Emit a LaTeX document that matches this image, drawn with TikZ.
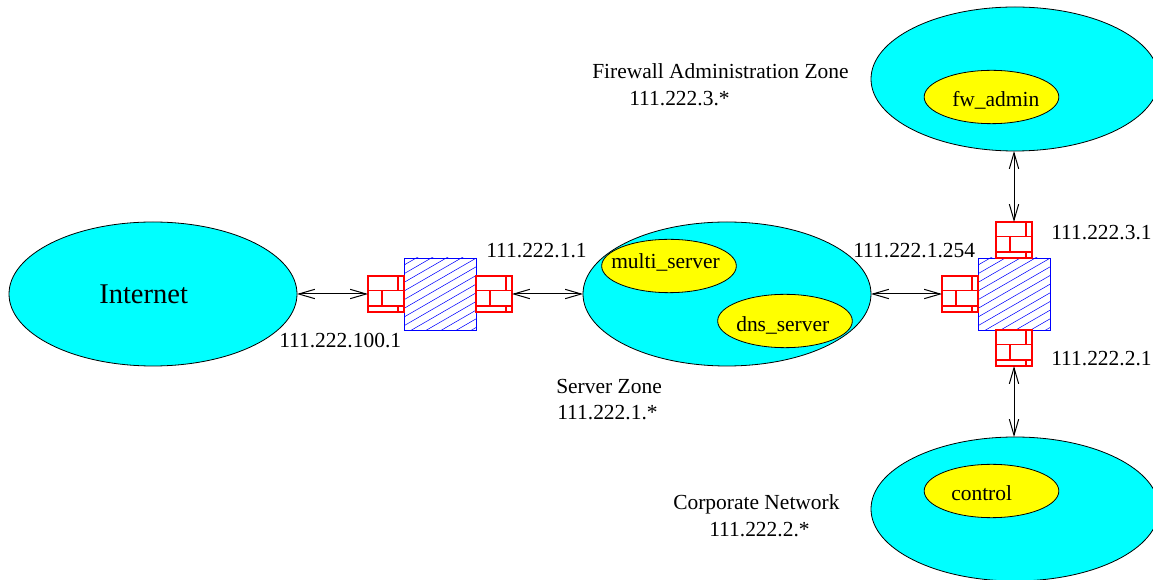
\documentclass[tikz,border=0pt]{standalone}
\usepackage{fontspec}
\setmainfont{Liberation Serif}
\usetikzlibrary{positioning}
\usetikzlibrary{arrows.meta}
\usetikzlibrary{calc}
\usetikzlibrary{shapes.geometric}

\definecolor{zonecyan}{RGB}{0,255,255}
\definecolor{hostyellow}{RGB}{255,255,0}

\tikzset{
  zone/.style={ellipse, draw, fill=zonecyan, line width=0.6pt, outer sep=0pt,
    inner sep=0pt, minimum width=216pt, minimum height=108pt},
  host/.style={ellipse, draw, fill=hostyellow, line width=0.6pt, outer sep=0pt,
    inner sep=0pt, minimum width=101pt, minimum height=40pt},
  label/.style={inner sep=0pt, anchor=base west, font=\fontsize{16.1}{19}\selectfont},
  link/.style={{Straight Barb[length=12pt,width=7pt]}-{Straight Barb[length=12pt,width=7pt]},
    line width=0.75pt},
  filter/.style={rectangle, draw=blue, line width=0.7pt, outer sep=0pt, inner sep=0pt,
    minimum size=54pt,
    path picture={
      \foreach \h in {-35.8,-29.3,...,54} {
        \draw[blue, line width=0.4pt] ($(path picture bounding box.south west)+(0,\h pt)$)
          -- ++(60pt,34.6pt);
      }
    }},
  brick/.style={rectangle, draw=red, line width=0.9pt, outer sep=0pt, inner sep=0pt,
    minimum size=27pt,
    path picture={
      \coordinate (SW) at (path picture bounding box.south west);
      \draw[red, line width=0.9pt] ($(SW)+(0,16pt)$) -- ++(27pt,0);
      \draw[red, line width=0.9pt] ($(SW)+(0,4.5pt)$) -- ++(27pt,0);
      \draw[red, line width=0.9pt] ($(SW)+(10.5pt,4.5pt)$) -- ++(0,11.5pt);
      \draw[red, line width=0.9pt] ($(SW)+(22.5pt,16pt)$) -- ++(0,11pt);
      \draw[red, line width=0.9pt] ($(SW)+(22.5pt,0)$) -- ++(0,4.5pt);
    }},
}

\begin{document}
\begin{tikzpicture}[x=0.75pt,y=-0.75pt]

  \useasboundingbox (0,0) rectangle (1153,580);

  % Zones
  \node[zone] (internet) at (153,294) {};
  \node[zone] (serverzone) at (727,294) {};
  \node[zone] (adminzone) at (1015,79) {};
  \node[zone] (corpzone) at (1015,509) {};

  % Hosts
  \node[host] (multi) at (669,266) {};
  \node[host] (dns) at (785,321) {};
  \node[host] (fwadmin) at (991.5,97) {};
  \node[host] (control) at (991.5,491) {};

  % Firewalls
  \node[filter] (leftfilter) at (440,294) {};
  \node[brick] (leftin) at (386,294) {};
  \node[brick] (leftout) at (494,294) {};
  \node[filter] (rightfilter) at (1014,294) {};
  \node[brick] (rightin) at (960,294) {};
  \node[brick] (righttop) at (1014,240) {};
  \node[brick] (rightbot) at (1014,348) {};

  % Links
  \draw[link] (internet.east) -- (leftin.west);
  \draw[link] (leftout.east) -- (serverzone.west);
  \draw[link] (serverzone.east) -- (rightin.west);
  \draw[link] (adminzone.south -| righttop.north) -- (righttop.north);
  \draw[link] (rightbot.south) -- (corpzone.north -| rightbot.south);

  % Host names
  \node[label] (multiname) at (611,269) {multi\_server};
  \node[label] (dnsname) at (736,331.5) {dns\_server};
  \node[label] (fwadminname) at (952,107) {fw\_admin};
  \node[label] (controlname) at (951,501) {control};

  % Labels
  \node[label, font=\fontsize{21.4}{24}\selectfont] (internetname) at (99,303.5) {Internet};
  \node[label] (ipleftin) at (279,348) {111.222.100.1};
  \node[label] (ipleftout) at (486,258) {111.222.1.1};
  \node[label] (iprightin) at (853,258) {111.222.1.254};
  \node[label] (iprighttop) at (1051,239.5) {111.222.3.1};
  \node[label] (iprightbot) at (1051,366) {111.222.2.1};
  \node[label] (adminname) at (592,79) {Firewall Administration Zone};
  \node[label] (adminip) at (629,106) {111.222.3.*};
  \node[label] (servername) at (556,393.3) {Server Zone};
  \node[label] (serverip) at (557,420) {111.222.1.*};
  \node[label] (corpname) at (673,509.3) {Corporate Network};
  \node[label] (corpip) at (709,536.7) {111.222.2.*};

\end{tikzpicture}
\end{document}
